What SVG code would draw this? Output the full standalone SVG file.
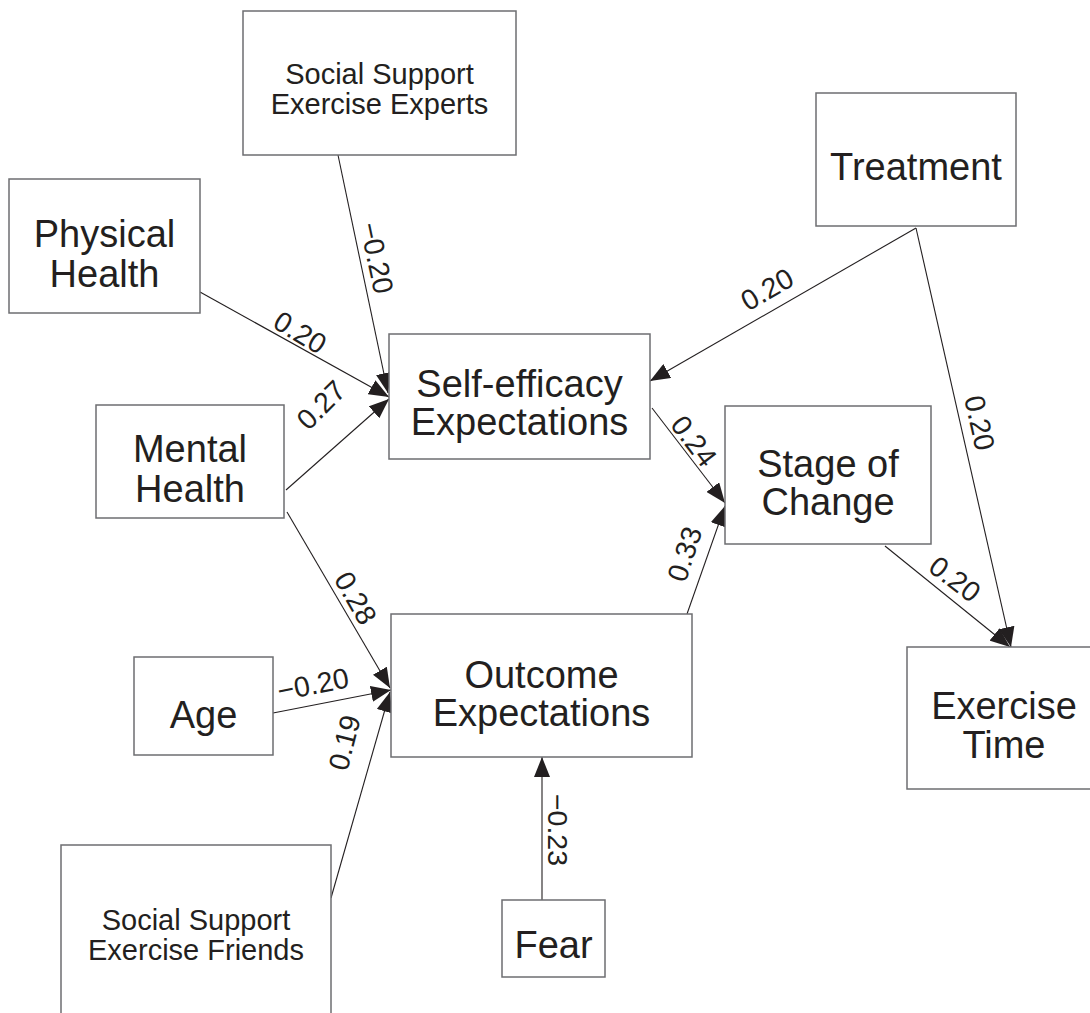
<svg xmlns="http://www.w3.org/2000/svg" width="1090" height="1013" viewBox="0 0 1090 1013">
<style>
.box{fill:#fff;stroke:#6d6e71;stroke-width:1.5}
.t{font-family:"Liberation Sans",Arial,sans-serif;font-size:38px;fill:#231f20;text-anchor:middle}
.s{font-family:"Liberation Sans",Arial,sans-serif;font-size:29px;fill:#231f20;text-anchor:middle}
.l{font-family:"Liberation Sans",Arial,sans-serif;font-size:28.5px;fill:#231f20;text-anchor:middle}
.e{fill:none;stroke:#231f20;stroke-width:1.1}
</style>
<defs>
<marker id="a" viewBox="0 0 20 16" refX="20" refY="8" markerWidth="20" markerHeight="16" markerUnits="userSpaceOnUse" orient="auto">
<path d="M0,0 L20,8 L0,16 z" fill="#231f20"/>
</marker>
</defs>
<rect width="1090" height="1013" fill="#fff"/>
<g id="connectors">
<line class="e" x1="338" y1="155" x2="388" y2="393" marker-end="url(#a)"/>
<line class="e" x1="200" y1="292" x2="389" y2="397" marker-end="url(#a)"/>
<line class="e" x1="286" y1="490" x2="389" y2="399" marker-end="url(#a)"/>
<line class="e" x1="916" y1="228" x2="650" y2="381" marker-end="url(#a)"/>
<line class="e" x1="916" y1="228" x2="1011" y2="647" marker-end="url(#a)"/>
<line class="e" x1="652" y1="408" x2="725" y2="503" marker-end="url(#a)"/>
<line class="e" x1="687" y1="614" x2="725" y2="506" marker-end="url(#a)"/>
<line class="e" x1="885" y1="546" x2="1010" y2="647" marker-end="url(#a)"/>
<line class="e" x1="287" y1="512" x2="390" y2="688" marker-end="url(#a)"/>
<line class="e" x1="273" y1="713" x2="391" y2="690" marker-end="url(#a)"/>
<line class="e" x1="331" y1="898" x2="390" y2="692" marker-end="url(#a)"/>
<line class="e" x1="542" y1="900" x2="542" y2="757" marker-end="url(#a)"/>
<text class="l" transform="translate(367,260) rotate(78)">−0.20</text>
<text class="l" transform="translate(295,341) rotate(30.8)">0.20</text>
<text class="l" transform="translate(328,412) rotate(-45)">0.27</text>
<text class="l" transform="translate(772,298) rotate(-29.7)">0.20</text>
<text class="l" transform="translate(970,425) rotate(77.4)">0.20</text>
<text class="l" transform="translate(686,447) rotate(52.7)">0.24</text>
<text class="l" transform="translate(694,557) rotate(-72.2)">0.33</text>
<text class="l" transform="translate(949,587) rotate(36.9)">0.20</text>
<text class="l" transform="translate(347,603) rotate(60.2)">0.28</text>
<text class="l" transform="translate(315,694) rotate(-11.1)">−0.20</text>
<text class="l" transform="translate(354,745) rotate(-75.7)">0.19</text>
<text class="l" transform="translate(548,830) rotate(90)">−0.23</text>
</g>
<g id="experts"><rect class="box" x="243" y="11" width="273" height="144"/><text class="s" x="379.5" y="84">Social Support</text><text class="s" x="379.5" y="113.5">Exercise Experts</text></g>
<g id="physical"><rect class="box" x="9" y="179" width="191" height="134"/><text class="t" x="104.5" y="247">Physical</text><text class="t" x="104.5" y="287">Health</text></g>
<g id="mental"><rect class="box" x="96" y="405" width="188" height="113"/><text class="t" x="190" y="462">Mental</text><text class="t" x="190" y="502">Health</text></g>
<g id="selfefficacy"><rect class="box" x="389" y="334" width="261" height="125"/><text class="t" x="519.5" y="397">Self-efficacy</text><text class="t" x="519.5" y="435">Expectations</text></g>
<g id="treatment"><rect class="box" x="816" y="93" width="200" height="133"/><text class="t" x="916" y="180">Treatment</text></g>
<g id="stage"><rect class="box" x="725" y="406" width="206" height="138"/><text class="t" x="828" y="477">Stage of</text><text class="t" x="828" y="515">Change</text></g>
<g id="outcome"><rect class="box" x="391" y="614" width="301" height="143"/><text class="t" x="541.5" y="688">Outcome</text><text class="t" x="541.5" y="726">Expectations</text></g>
<g id="exercisetime"><rect class="box" x="907" y="647" width="194" height="142"/><text class="t" x="1004" y="719">Exercise</text><text class="t" x="1004" y="758">Time</text></g>
<g id="age"><rect class="box" x="134" y="657" width="139" height="98"/><text class="t" x="203.5" y="728">Age</text></g>
<g id="fear"><rect class="box" x="502" y="900" width="103" height="77"/><text class="t" x="553.5" y="958">Fear</text></g>
<g id="friends"><rect class="box" x="61" y="845" width="270" height="190"/><text class="s" x="196" y="930">Social Support</text><text class="s" x="196" y="960">Exercise Friends</text></g>
</svg>
